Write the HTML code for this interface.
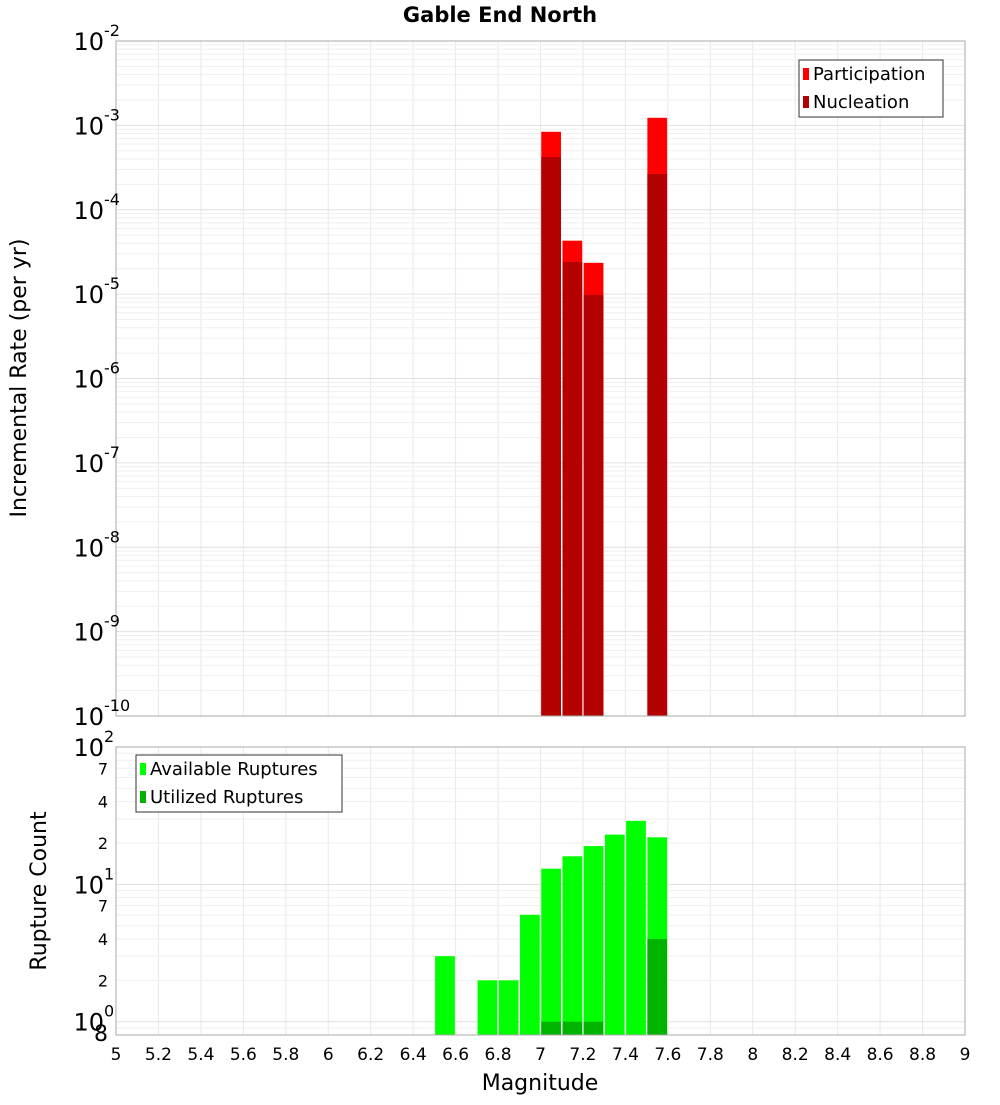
<!DOCTYPE html>
<html><head><meta charset="utf-8"><style>
body{margin:0;background:#fff;}
svg{font-family:"DejaVu Sans","Liberation Sans",sans-serif;}
</style></head><body>
<svg id="c" width="1000" height="1100" xmlns="http://www.w3.org/2000/svg">
<text x="500" y="22" text-anchor="middle" font-size="21" font-weight="bold">Gable End North</text>
<g id="topPlot"></g>
<g id="botPlot"></g>
<text transform="translate(26,378) rotate(-90)" text-anchor="middle" font-size="22">Incremental Rate (per yr)</text>
<text transform="translate(46,891) rotate(-90)" text-anchor="middle" font-size="22">Rupture Count</text>
<text x="540" y="1090" text-anchor="middle" font-size="22">Magnitude</text>
</svg>
<script>
const mags=[7.05,7.15,7.25,7.55];
const participation=[8.4e-4,4.3e-5,2.35e-5,1.23e-3];
const nucleation=[4.2e-4,2.4e-5,9.8e-6,2.65e-4];
const countMags=[6.55,6.75,6.85,6.95,7.05,7.15,7.25,7.35,7.45,7.55];
const available=[3,2,2,6,13,16,19,23,29,22];
const utilMags=[7.05,7.15,7.25,7.55];
const utilized=[1,1,1,4];
const xTicks=[5,5.2,5.4,5.6,5.8,6,6.2,6.4,6.6,6.8,7,7.2,7.4,7.6,7.8,8,8.2,8.4,8.6,8.8,9];
const topExps=[-10,-9,-8,-7,-6,-5,-4,-3,-2];
const botTicks=[2,4,7,20,40,70];

const NS="http://www.w3.org/2000/svg";
const L=116,R=965;
const x=v=>L+(v-5)/4*(R-L);
function mk(p,t,a){const e=document.createElementNS(NS,t);for(const k in a)e.setAttribute(k,a[k]);p.appendChild(e);return e;}
const T0=41,T1=716,B0=747,B1=1035;
const yT=v=>T1-(Math.log10(v)+10)/8*(T1-T0);
const bmin=Math.log10(0.8),bmax=2;
const yB=v=>B1-(Math.log10(v)-bmin)/(bmax-bmin)*(B1-B0);
const topG=document.getElementById('topPlot'),botG=document.getElementById('botPlot');

function grid(g,y0,y1,yf,lo,hi){
  for(let v=5;v<=9.001;v+=0.2){const l=mk(g,'line',{x1:x(v),x2:x(v),y1:y0,y2:y1,stroke:'#e8e8e8'});}
  for(let e=lo;e<hi;e++)for(let m=1;m<10;m++){const v=m*Math.pow(10,e);const yy=yf(v);if(yy<y0-0.5||yy>y1+0.5)continue;const l=mk(g,'line',{x1:L,x2:R,y1:yy,y2:yy,stroke:m==1?'#e0e0e0':'#efefef'});}
}
grid(topG,T0,T1,yT,-10,-2);
grid(botG,B0,B1,yB,-1,2);
const bw=x(5.1)-x(5)-1.5;
mags.forEach((m,i)=>{
  const r=mk(topG,'rect',{x:x(m)-bw/2,y:yT(participation[i]),width:bw,height:T1-yT(participation[i]),fill:'#ff0000'});
  
  const n=mk(topG,'rect',{x:x(m)-bw/2,y:yT(nucleation[i]),width:bw,height:T1-yT(nucleation[i]),fill:'#b30000'});
  
});
countMags.forEach((m,i)=>{
  const r=mk(botG,'rect',{x:x(m)-bw/2,y:yB(available[i]),width:bw,height:B1-yB(available[i]),fill:'#00ff00'});
  
});
utilMags.forEach((m,i)=>{
  const r=mk(botG,'rect',{x:x(m)-bw/2,y:yB(utilized[i]),width:bw,height:B1-yB(utilized[i]),fill:'#00b300'});
  
});
mk(topG,'rect',{x:L,y:T0,width:R-L,height:T1-T0,fill:'none',stroke:'#aaa'});
mk(botG,'rect',{x:L,y:B0,width:R-L,height:B1-B0,fill:'none',stroke:'#aaa'});
topExps.forEach(e=>{
  const yy=yT(Math.pow(10,e));
  const t=mk(topG,'text',{x:104,y:yy+9,'text-anchor':'end','font-size':24});
  
  t.textContent='10';
  const s=mk(topG,'text',{x:104,y:yy-5,'font-size':16});
  
  s.textContent=String(e);
});
[[1,'0'],[10,'1'],[100,'2']].forEach(([v,e])=>{
  const yy=yB(v);
  const t=mk(botG,'text',{x:104,y:yy+9,'text-anchor':'end','font-size':24});
  
  t.textContent='10';
  const s=mk(botG,'text',{x:104,y:yy-5,'font-size':16});
  
  s.textContent=e;
});
botTicks.concat([0.8]).forEach(v=>{
  const yy=yB(v);
  const t=mk(botG,'text',{x:108,y:yy+6,'text-anchor':'end','font-size':v==0.8?22:16});
  
  t.textContent=String(v<1?8:(v<10?v:v/10));
});
xTicks.forEach(v=>{
  const t=mk(botG,'text',{x:x(v),y:1060,'text-anchor':'middle','font-size':17});
  
  t.textContent=String(v);
});
function legend(g,bx,by,w,items){
  const b=mk(g,'rect',{x:bx,y:by,width:w,height:57,fill:'#fff',stroke:'#333'});
  
  items.forEach(([lab,col],i)=>{
    const r=mk(g,'rect',{x:bx+4,y:by+8+i*28,width:6,height:12,fill:col});
    
    const t=mk(g,'text',{x:bx+14,y:by+20+i*28,'font-size':18});
    
    t.textContent=lab;
  });
}
legend(topG,799,60,144,[['Participation','#ff0000'],['Nucleation','#b30000']]);
legend(botG,136,755,206,[['Available Ruptures','#00ff00'],['Utilized Ruptures','#00b300']]);
</script>
</body></html>
